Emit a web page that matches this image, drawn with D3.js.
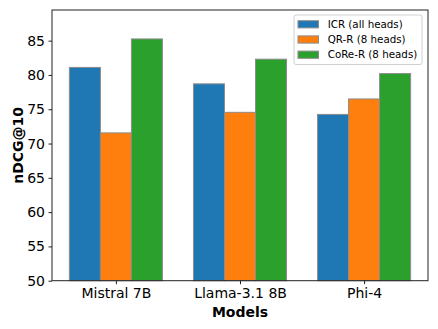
<!DOCTYPE html>
<html>
<head>
<meta charset="utf-8">
<script src="https://cdn.jsdelivr.net/npm/d3@7"></script>
<style>
  body { margin: 0; background: #fff; }
  text { font-family: "DejaVu Sans", sans-serif; fill: #000; }
</style>
</head>
<body>
<script>
// data
var models = ["Mistral 7B", "Llama-3.1 8B", "Phi-4"];
var seriesNames = ["ICR (all heads)", "QR-R (8 heads)", "CoRe-R (8 heads)"];
var icr   = [81.1, 78.7, 74.25];
var qrr   = [71.55, 74.55, 76.5];
var corer = [85.25, 82.3, 80.2];
var yTicks = [50, 55, 60, 65, 70, 75, 80, 85];
var colors = ["#1f77b4", "#ff7f0e", "#2ca02c"];

var W = 438, H = 329;
var margin = {top: 10, right: 10, bottom: 48.3, left: 52};
var w = W - margin.left - margin.right,
    h = H - margin.top - margin.bottom;

var svg = d3.select("body").append("svg")
    .attr("width", W).attr("height", H)
  .append("g")
    .attr("transform", "translate(" + margin.left + "," + margin.top + ")");

var series = [icr, qrr, corer];

// scales
var xScale = d3.scaleLinear().domain([-0.515, 2.515]).range([0, w]);
var yScale = d3.scaleLinear().domain([50, 89.47]).range([h, 0]);
var barW = 0.25;

/***Bars***/
series.forEach(function(vals, si) {
  svg.selectAll(".bar" + si)
    .data(vals)
    .enter().append("rect")
      .attr("class", "bar" + si)
      .attr("x", function(d, i) { return xScale(i + (si - 1) * barW - barW / 2); })
      .attr("width", xScale(barW) - xScale(0))
      .attr("y", function(d) { return yScale(d); })
      .attr("height", function(d) { return h - yScale(d); })
      .attr("fill", colors[si])
      .attr("stroke", "#8c8c8c")
      .attr("stroke-width", 1);
});

/***Axes***/
var xAxis = d3.axisBottom(xScale)
    .tickValues([0, 1, 2])
    .tickFormat(function(d) { return models[d]; })
    .tickSizeInner(3.5).tickSizeOuter(0).tickPadding(3.5);
var yAxis = d3.axisLeft(yScale)
    .tickValues(yTicks)
    .tickSizeInner(3.5).tickSizeOuter(0).tickPadding(3.5);

var gx = svg.append("g")
    .attr("class", "xaxis")
    .attr("transform", "translate(0," + h + ")")
    .call(xAxis);
var gy = svg.append("g")
    .attr("class", "yaxis")
    .call(yAxis);

svg.selectAll(".xaxis text, .yaxis text")
   .style("font-family", "DejaVu Sans")
   .style("font-size", "14px");
svg.selectAll(".tick line").attr("stroke", "#222");
svg.selectAll(".domain").style("display", "none");

// frame
svg.append("rect")
   .attr("x", 0).attr("y", 0)
   .attr("width", w).attr("height", h)
   .attr("fill", "none")
   .attr("stroke", "#222")
   .attr("stroke-width", 1);

/***Axis labels***/
svg.append("text")
   .attr("x", w / 2)
   .attr("y", h + 36)
   .attr("text-anchor", "middle")
   .style("font-size", "14px")
   .style("font-weight", "bold")
   .text("Models");
svg.append("text")
   .attr("transform", "translate(" + (23 - margin.left) + "," + (h / 2) + ")rotate(-90)")
   .attr("text-anchor", "middle")
   .style("font-size", "14px")
   .style("font-weight", "bold")
   .text("nDCG@10");

/***Legend***/
var legend = svg.append("g")
    .attr("transform", "translate(" + (294 - margin.left) + "," + (15 - margin.top) + ")");
legend.append("rect")
   .attr("width", 128).attr("height", 49.5)
   .attr("rx", 2)
   .attr("fill", "#fff").attr("fill-opacity", 0.8)
   .attr("stroke", "#d0d0d0");
seriesNames.forEach(function(name, i) {
  var row = legend.append("g").attr("transform", "translate(0," + (9.3 + i * 15.2) + ")");
  row.append("rect")
     .attr("x", 4).attr("y", -3.6)
     .attr("width", 20.5).attr("height", 7.2)
     .attr("fill", colors[i])
     .attr("stroke", "#8c8c8c");
  row.append("text")
     .attr("x", 33.7).attr("y", 3.7)
     .style("font-size", "10.3px")
     .text(name);
});
</script>
</body>
</html>
